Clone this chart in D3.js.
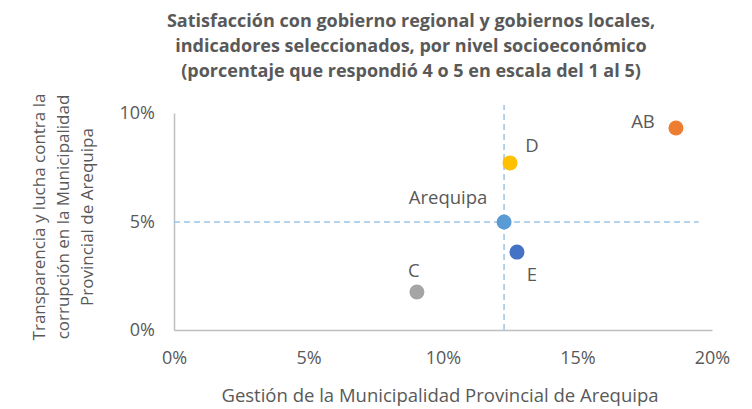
<!DOCTYPE html>
<html>
<head>
<meta charset="utf-8">
<script src="https://cdn.jsdelivr.net/npm/d3@7"></script>
<style>
body { margin: 0; background: #fff; }
text { font-family: "Open Sans", sans-serif; fill: #595959; }
</style>
</head>
<body>
<svg width="752" height="409"></svg>
<script>
var screen = {width: 752, height: 409}
var margin = {top: 113, right: 40, bottom: 79, left: 174};

// data
var labels = ["AB", "D", "Arequipa", "E", "C"]
var gestion = [0.1866, 0.1249, 0.1227, 0.1275, 0.0903]
var transparencia = [0.0931, 0.0770, 0.0498, 0.0359, 0.0175]
var colors = ["#ED7D31", "#FFC000", "#5B9BD5", "#4472C4", "#A5A5A5"]

var xTicks = [0, 0.05, 0.10, 0.15, 0.20]
var yTicks = [0, 0.05, 0.10]

// reference lines through Arequipa
var hLine = [[0, 0.0498], [0.195, 0.0498]]
var vLine = [[0.1227, 0], [0.1227, 0.1037]]

var titleLines = [
    "Satisfacción con gobierno regional y gobiernos locales,",
    "indicadores seleccionados, por nivel socioeconómico",
    "(porcentaje que respondió 4 o 5 en escala del 1 al  5)"
]
var yTitleLines = [
    "Transparencia y lucha contra la",
    "corrupción en la Municipalidad",
    "Provincial de Arequipa"
]
var xTitle = "Gestión de la Municipalidad Provincial de Arequipa"

var width = 712 - margin.left;
var height = 330 - margin.top;

var svg = d3.select("svg")

var xScale = d3.scaleLinear().domain([0, 0.2]).range([0, width])
var yScale = d3.scaleLinear().domain([0, 0.1]).range([height, 0])

var g = svg.append("g")
    .attr("transform", "translate(" + margin.left + "," + margin.top + ")")

// title
svg.append("g").selectAll("text")
    .data(titleLines).enter().append("text")
    .attr("x", 411)
    .attr("y", function(d, i) { return 27 + i * 25 })
    .attr("text-anchor", "middle")
    .style("font-weight", "bold")
    .style("font-size", "18px")
    .text(function(d) { return d })

// axes
var xAxis = d3.axisBottom(xScale).tickValues(xTicks).tickSize(0).tickPadding(21).tickFormat(d3.format(".0%"))
var yAxis = d3.axisLeft(yScale).tickValues(yTicks).tickSize(0).tickPadding(19).tickFormat(d3.format(".0%"))

var gx = g.append("g").attr("transform", "translate(0," + height + ")").call(xAxis)
var gy = g.append("g").call(yAxis)
gx.select(".domain").attr("stroke", "#BFBFBF").attr("stroke-width", 1.5)
gy.select(".domain").attr("stroke", "#BFBFBF").attr("stroke-width", 1.5)
svg.selectAll(".tick text").style("font-size", "18px").style("fill", "#595959").style("font-family", "'Open Sans', sans-serif")

// dashed reference lines
var line = d3.line().x(function(d) { return xScale(d[0]) }).y(function(d) { return yScale(d[1]) })
g.selectAll(".ref").data([hLine, vLine]).enter().append("path")
    .attr("class", "ref")
    .attr("d", line)
    .attr("fill", "none")
    .attr("stroke", "#9DC3E6")
    .attr("stroke-width", 1.5)
    .attr("stroke-dasharray", "6,4")

// points
var pts = labels.map(function(l, i) { return {label: l, x: gestion[i], y: transparencia[i], c: colors[i]} })
g.selectAll("circle").data(pts).enter().append("circle")
    .attr("cx", function(d) { return xScale(d.x) })
    .attr("cy", function(d) { return yScale(d.y) })
    .attr("r", 7.5)
    .attr("fill", function(d) { return d.c })

// point labels (offsets in px)
var offs = {"AB": [-33, -6.5], "D": [22, -17.5], "Arequipa": [-56, -24], "E": [15, 22.5], "C": [-3, -22]}
g.selectAll(".plabel").data(pts).enter().append("text")
    .attr("class", "plabel")
    .attr("x", function(d) { return xScale(d.x) + offs[d.label][0] })
    .attr("y", function(d) { return yScale(d.y) + offs[d.label][1] })
    .attr("text-anchor", "middle")
    .attr("dy", "0.35em")
    .style("font-size", "18.5px")
    .text(function(d) { return d.label })

// axis titles
svg.append("text")
    .attr("x", 440).attr("y", 402)
    .attr("text-anchor", "middle")
    .style("font-size", "18.5px")
    .text(xTitle)

svg.append("g").attr("transform", "translate(0,217) rotate(-90)")
    .selectAll("text").data(yTitleLines).enter().append("text")
    .attr("x", 0)
    .attr("y", function(d, i) { return 45 + i * 24 })
    .attr("text-anchor", "middle")
    .style("font-size", "17px")
    .text(function(d) { return d })
</script>
</body>
</html>
